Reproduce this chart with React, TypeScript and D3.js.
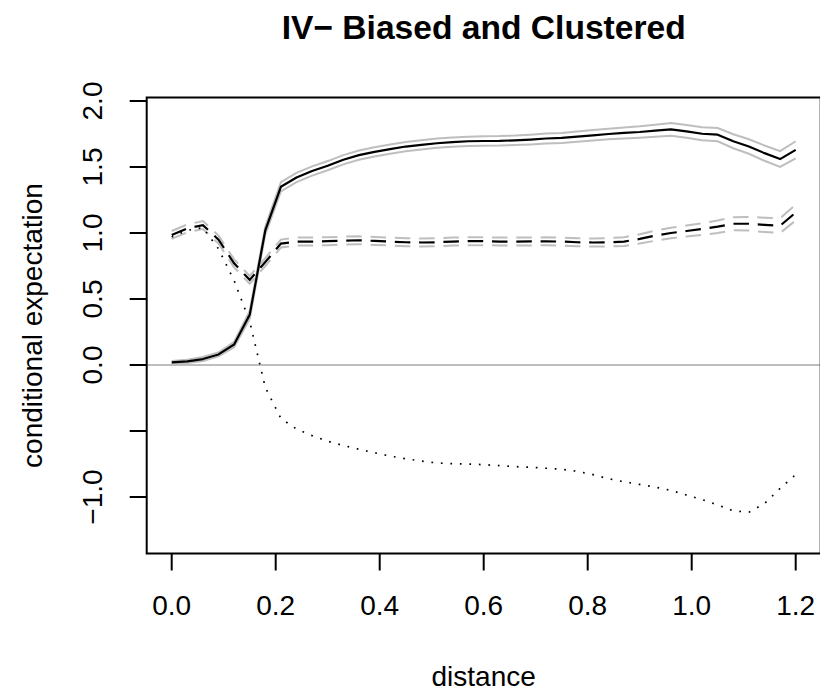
import React from "react";
import * as d3 from "d3";

const title = "IV\u2212 Biased and Clustered";
const xLabel = "distance";
const yLabel = "conditional expectation";

const xTicks = [0, 0.2, 0.4, 0.6, 0.8, 1.0, 1.2];
const xTickLabels = ["0.0", "0.2", "0.4", "0.6", "0.8", "1.0", "1.2"];
const yTicks = [-1.0, -0.5, 0, 0.5, 1.0, 1.5, 2.0];
const yTickLabels = ["\u22121.0", "", "0.0", "0.5", "1.0", "1.5", "2.0"];

const distance = [
  0, 0.03, 0.06, 0.09, 0.12, 0.15, 0.18, 0.21, 0.24, 0.27, 0.3, 0.33, 0.36, 0.39,
  0.42, 0.45, 0.48, 0.51, 0.54, 0.57, 0.6, 0.63, 0.66, 0.69, 0.72, 0.75, 0.78,
  0.81, 0.84, 0.87, 0.9, 0.93, 0.96, 0.99, 1.02, 1.05, 1.08, 1.11, 1.14, 1.17, 1.2,
];

const solidMean = [
  0.02, 0.028, 0.045, 0.08, 0.155, 0.38, 1.02, 1.35, 1.42, 1.47, 1.51, 1.555, 1.59,
  1.615, 1.635, 1.655, 1.668, 1.68, 1.688, 1.695, 1.697, 1.698, 1.702, 1.708, 1.716,
  1.72, 1.73, 1.74, 1.75, 1.758, 1.765, 1.775, 1.785, 1.77, 1.752, 1.745, 1.695,
  1.655, 1.605, 1.56, 1.63,
];
const solidUpper = [
  0.03, 0.04, 0.06, 0.095, 0.175, 0.41, 1.05, 1.385, 1.455, 1.505, 1.545, 1.59,
  1.625, 1.65, 1.67, 1.69, 1.703, 1.715, 1.723, 1.73, 1.733, 1.734, 1.738, 1.745,
  1.754, 1.758, 1.769, 1.78, 1.79, 1.8, 1.808, 1.82, 1.833, 1.818, 1.802, 1.795,
  1.748, 1.71, 1.663, 1.62, 1.695,
];
const solidLower = [
  0.01, 0.016, 0.03, 0.065, 0.135, 0.35, 0.99, 1.315, 1.385, 1.435, 1.475, 1.52,
  1.555, 1.58, 1.6, 1.62, 1.633, 1.645, 1.653, 1.66, 1.661, 1.662, 1.666, 1.671,
  1.678, 1.682, 1.691, 1.7, 1.71, 1.716, 1.722, 1.73, 1.737, 1.722, 1.702, 1.695,
  1.642, 1.6, 1.547, 1.5, 1.565,
];

const dashedMean = [
  0.985, 1.035, 1.06, 0.95, 0.77, 0.645, 0.78, 0.92, 0.935, 0.935, 0.938, 0.942,
  0.945, 0.94, 0.935, 0.93, 0.928, 0.93, 0.935, 0.938, 0.938, 0.935, 0.935, 0.936,
  0.937, 0.935, 0.93, 0.928, 0.93, 0.935, 0.955, 0.98, 1.0, 1.015, 1.03, 1.048,
  1.07, 1.07, 1.062, 1.055, 1.155,
];
const dashedUpper = [
  1.015, 1.065, 1.09, 0.98, 0.8, 0.675, 0.81, 0.95, 0.965, 0.965, 0.968, 0.972,
  0.975, 0.97, 0.965, 0.96, 0.958, 0.96, 0.965, 0.968, 0.968, 0.965, 0.965, 0.966,
  0.967, 0.965, 0.96, 0.958, 0.962, 0.968, 0.99, 1.018, 1.04, 1.057, 1.074, 1.095,
  1.12, 1.122, 1.116, 1.112, 1.215,
];
const dashedLower = [
  0.955, 1.005, 1.03, 0.92, 0.74, 0.615, 0.75, 0.89, 0.905, 0.905, 0.908, 0.912,
  0.915, 0.91, 0.905, 0.9, 0.898, 0.9, 0.905, 0.908, 0.908, 0.905, 0.905, 0.906,
  0.907, 0.905, 0.9, 0.898, 0.898, 0.902, 0.92, 0.942, 0.96, 0.973, 0.986, 1.0,
  1.02, 1.018, 1.008, 1.0, 1.095,
];

const dottedMean = [
  0.97, 1.02, 1.04, 0.88, 0.64, 0.33, -0.17, -0.405, -0.485, -0.535, -0.578, -0.61,
  -0.638, -0.665, -0.69, -0.71, -0.728, -0.742, -0.748, -0.75, -0.755, -0.762,
  -0.77, -0.775, -0.782, -0.79, -0.805, -0.83, -0.862, -0.885, -0.905, -0.925,
  -0.95, -0.985, -1.02, -1.06, -1.105, -1.115, -1.05, -0.935, -0.83,
];

const W = 820;
const H = 693;
const FONT = "'Liberation Sans', Arial, Helvetica, sans-serif";
const GRAY = "#bebebe";

export default function App() {
  const x = d3.scaleLinear().domain([0, 1.2]).range([171.7, 795.7]);
  const y = d3.scaleLinear().domain([-1, 2]).range([497, 101]);
  const box = { left: 146.7, right: 820.7, top: 97.5, bottom: 553.5 };

  const mk = (vals: number[]) =>
    d3
      .line<number>()
      .x((_, i) => x(distance[i]))
      .y((d) => y(d))(vals) as string;

  const dash = "15.5 8.8";
  const dot = "1.7 7.8";

  return (
    <div style={{ position: "absolute", left: 0, top: 0 }}>
      <svg width={W} height={H} style={{ display: "block", background: "#fff" }}>
        <defs>
          <clipPath id="plotclip">
            <rect x={box.left} y={box.top} width={box.right - box.left} height={box.bottom - box.top} />
          </clipPath>
        </defs>
        <rect x={0} y={0} width={W} height={H} fill="#fff" />
        <text
          x={(box.left + box.right) / 2}
          y={38.5}
          textAnchor="middle"
          fontFamily={FONT}
          fontWeight="bold"
          fontSize={33.6}
        >
          {title}
        </text>

        <g clipPath="url(#plotclip)">
          <line x1={box.left} x2={box.right} y1={y(0)} y2={y(0)} stroke={GRAY} strokeWidth={2} />
          <path d={mk(solidUpper)} fill="none" stroke={GRAY} strokeWidth={2} />
          <path d={mk(solidLower)} fill="none" stroke={GRAY} strokeWidth={2} />
          <path d={mk(dashedUpper)} fill="none" stroke={GRAY} strokeWidth={2} strokeDasharray={dash} />
          <path d={mk(dashedLower)} fill="none" stroke={GRAY} strokeWidth={2} strokeDasharray={dash} />
          <path d={mk(solidMean)} fill="none" stroke="#000" strokeWidth={2.2} strokeLinejoin="round" />
          <path d={mk(dashedMean)} fill="none" stroke="#000" strokeWidth={2.2} strokeDasharray={dash} />
          <path d={mk(dottedMean)} fill="none" stroke="#000" strokeWidth={1.7} strokeDasharray={dot} />
        </g>

        <rect
          x={box.left}
          y={box.top}
          width={box.right - box.left}
          height={box.bottom - box.top}
          fill="none"
          stroke="#000"
          strokeWidth={2}
        />

        {xTicks.map((t, i) => (
          <g key={"xt" + i}>
            <line x1={x(t)} x2={x(t)} y1={box.bottom} y2={box.bottom + 17} stroke="#000" strokeWidth={2} />
            <text x={x(t)} y={615} textAnchor="middle" fontFamily={FONT} fontSize={28}>
              {xTickLabels[i]}
            </text>
          </g>
        ))}
        {yTicks.map((t, i) => (
          <g key={"yt" + i}>
            <line x1={box.left - 17} x2={box.left} y1={y(t)} y2={y(t)} stroke="#000" strokeWidth={2} />
            {yTickLabels[i] !== "" && (
              <text
                transform={`translate(102,${y(t)}) rotate(-90)`}
                textAnchor="middle"
                fontFamily={FONT}
                fontSize={28}
              >
                {yTickLabels[i]}
              </text>
            )}
          </g>
        ))}

        <text x={(box.left + box.right) / 2} y={686} textAnchor="middle" fontFamily={FONT} fontSize={28}>
          {xLabel}
        </text>
        <text
          transform={`translate(42,${(box.top + box.bottom) / 2}) rotate(-90)`}
          textAnchor="middle"
          fontFamily={FONT}
          fontSize={28}
        >
          {yLabel}
        </text>
      </svg>
    </div>
  );
}
